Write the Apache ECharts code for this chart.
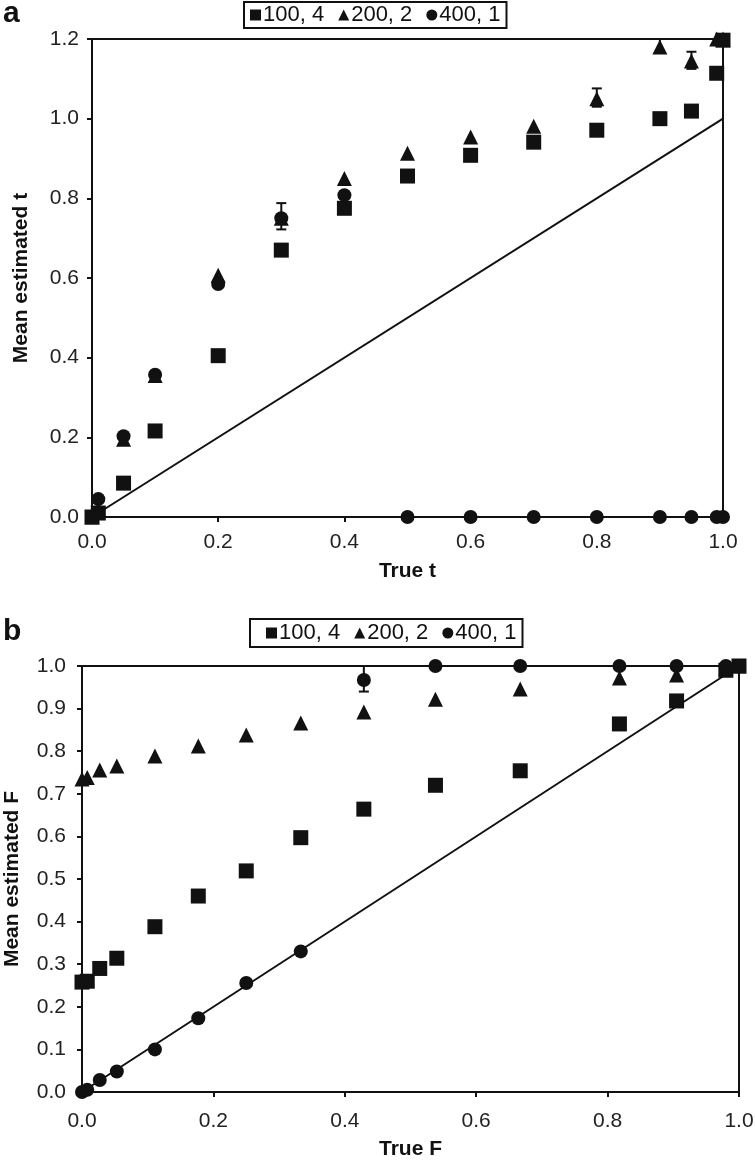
<!DOCTYPE html>
<html><head><meta charset="utf-8">
<script src="https://cdn.jsdelivr.net/npm/echarts@6/dist/echarts.min.js"></script>
<style>html,body{margin:0;padding:0;background:#fff}#c{width:755px;height:1164px}</style>
</head><body><div id="c"></div>
<script>
// Panel a
const seriesNames = ['100, 4', '200, 2', '400, 1'];
const aX = [0, 0.01, 0.05, 0.1, 0.2, 0.3, 0.4, 0.5, 0.6, 0.7, 0.8, 0.9, 0.95, 0.99, 1.0];
const aSquare = [0, 0.01, 0.085, 0.216, 0.405, 0.67, 0.775, 0.856, 0.908, 0.941, 0.971, 1.0, 1.019, 1.114, 1.197];
const aTriangle = [0, 0.02, 0.195, 0.355, 0.607, 0.75, 0.85, 0.913, 0.954, 0.981, 1.05, 1.18, 1.145, 1.2, 1.2];
const aCircle = [0, 0.045, 0.203, 0.357, 0.585, 0.75, 0.808, 0, 0, 0, 0, 0, 0, 0, 0];
// error bars panel a: [x, low, high]
const aErr = [[0.3, 0.722, 0.788], [0.8, 1.03, 1.076], [0.9, 1.165, 1.2], [0.95, 1.125, 1.168]];
const aDiag = [[0, 0], [1, 1]];
const aXTicks = ['0.0', '0.2', '0.4', '0.6', '0.8', '1.0'];
const aYTicks = ['0.0', '0.2', '0.4', '0.6', '0.8', '1.0', '1.2'];

// Panel b
const bX = [0, 0.008, 0.027, 0.053, 0.111, 0.177, 0.25, 0.333, 0.429, 0.538, 0.667, 0.818, 0.905, 0.98, 1.0];
const bSquare = [0.258, 0.26, 0.29, 0.314, 0.388, 0.46, 0.519, 0.597, 0.664, 0.72, 0.754, 0.864, 0.918, 0.99, 1.0];
const bTriangle = [0.735, 0.738, 0.756, 0.765, 0.789, 0.812, 0.838, 0.866, 0.892, 0.922, 0.946, 0.972, 0.979, 0.995, 1.0];
const bCircle = [0, 0.005, 0.028, 0.048, 0.10, 0.173, 0.256, 0.33, 0.967, 1.0, 1.0, 1.0, 1.0, 1.0, 1.0];
const bErr = [[0.429, 0.94, 1.0]];
const bDiag = [[0, 0], [1, 1]];
const bXTicks = ['0.0', '0.2', '0.4', '0.6', '0.8', '1.0'];
const bYTicks = ['0.0','0.1','0.2','0.3','0.4','0.5','0.6','0.7','0.8','0.9','1.0'];

const zip = (xs, ys) => xs.map((x, i) => [x, ys[i]]);
const FONT = 'Liberation Sans, Arial, sans-serif';

function errSeries(idx, data) {
  return {
    type: 'custom', xAxisIndex: idx, yAxisIndex: idx, z: 1, silent: true,
    data: data,
    renderItem: function (params, api) {
      const x = api.value(0), lo = api.value(1), hi = api.value(2);
      const p1 = api.coord([x, lo]), p2 = api.coord([x, hi]);
      const w = 5;
      const st = { stroke: '#111', lineWidth: 2 };
      return { type: 'group', children: [
        { type: 'line', shape: { x1: p1[0], y1: p1[1], x2: p2[0], y2: p2[1] }, style: st },
        { type: 'line', shape: { x1: p1[0] - w, y1: p1[1], x2: p1[0] + w, y2: p1[1] }, style: st },
        { type: 'line', shape: { x1: p2[0] - w, y1: p2[1], x2: p2[0] + w, y2: p2[1] }, style: st }
      ]};
    }
  };
}

function xAxisCfg(idx, name, ticks, nameGap, margin) {
  return {
    type: 'value', gridIndex: idx, min: 0, max: 1, interval: 0.2,
    name: name, nameLocation: 'middle', nameGap: nameGap,
    nameTextStyle: { fontFamily: FONT, fontWeight: 'bold', fontSize: 21, color: '#111' },
    axisLine: { show: true, onZero: false, lineStyle: { color: '#111', width: 2 } },
    axisTick: { show: true, length: 5, lineStyle: { color: '#111', width: 2 } },
    axisLabel: { fontFamily: FONT, fontSize: 21, color: '#222', margin: margin,
      formatter: v => ticks[Math.round(v / 0.2)] },
    splitLine: { show: false }
  };
}
function yAxisCfg(idx, name, max, interval, ticks, nameGap, margin) {
  return {
    type: 'value', gridIndex: idx, min: 0, max: max, interval: interval,
    name: name, nameLocation: 'middle', nameGap: nameGap,
    nameTextStyle: { fontFamily: FONT, fontWeight: 'bold', fontSize: 21, color: '#111' },
    axisLine: { show: true, onZero: false, lineStyle: { color: '#111', width: 2 } },
    axisTick: { show: true, length: 5, lineStyle: { color: '#111', width: 2 } },
    axisLabel: { fontFamily: FONT, fontSize: 21, color: '#222', margin: margin,
      formatter: v => ticks[Math.round(v / interval)] },
    splitLine: { show: false }
  };
}
function scat(idx, name, symbol, size, data) {
  return {
    type: 'scatter', name: name, xAxisIndex: idx, yAxisIndex: idx, z: 3,
    symbol: symbol, symbolSize: size, data: data,
    itemStyle: { color: '#111', opacity: 1 }, silent: true
  };
}
function diag(idx, data) {
  return { type: 'line', xAxisIndex: idx, yAxisIndex: idx, data: data, symbol: 'none',
    lineStyle: { color: '#111', width: 2 }, silent: true, z: 2 };
}

const legendCommon = {
  orient: 'horizontal', itemWidth: 11, itemHeight: 11, itemGap: 14,
  borderColor: '#111', borderWidth: 2, padding: [2, 6, 2, 6],
  textStyle: { fontFamily: FONT, fontSize: 22, color: '#111', padding: [0, 0, 0, -3] },
  selectedMode: false,
  data: [
    { name: seriesNames[0], icon: 'rect' },
    { name: seriesNames[1], icon: 'triangle' },
    { name: seriesNames[2], icon: 'circle' }
  ]
};

const gridCommon = { show: true, borderColor: '#111', borderWidth: 2, backgroundColor: 'transparent',
  containLabel: false, outerBoundsMode: 'none' };

const chart = echarts.init(document.getElementById('c'), null, { renderer: 'canvas' });
chart.setOption({
  animation: false,
  backgroundColor: '#fff',
  title: [
    { text: 'a', left: -2, top: -6, textStyle: { fontFamily: FONT, fontWeight: 'bold', fontSize: 30, color: '#111' } },
    { text: 'b', left: -2, top: 612, textStyle: { fontFamily: FONT, fontWeight: 'bold', fontSize: 30, color: '#111' } }
  ],
  legend: [
    Object.assign({}, legendCommon, { left: 244, top: 2 }),
    Object.assign({}, legendCommon, { left: 250, top: 619, padding: [3, 6, 3, 16] })
  ],
  grid: [
    Object.assign({ left: 92, top: 39, width: 631, height: 478 }, gridCommon),
    Object.assign({ left: 82, top: 666, width: 657, height: 426 }, gridCommon)
  ],
  xAxis: [
    xAxisCfg(0, 'True t', aXTicks, 44, 15),
    xAxisCfg(1, 'True F', bXTicks, 47, 19)
  ],
  yAxis: [
    yAxisCfg(0, 'Mean estimated t', 1.2, 0.2, aYTicks, 60, 13),
    yAxisCfg(1, 'Mean estimated F', 1.0, 0.1, bYTicks, 59, 16)
  ],
  series: [
    diag(0, aDiag),
    errSeries(0, aErr),
    scat(0, seriesNames[0], 'rect', 15, zip(aX, aSquare)),
    scat(0, seriesNames[1], 'triangle', 15, zip(aX, aTriangle)),
    scat(0, seriesNames[2], 'circle', 14, zip(aX, aCircle)),
    diag(1, bDiag),
    errSeries(1, bErr),
    scat(1, seriesNames[0], 'rect', 15, zip(bX, bSquare)),
    scat(1, seriesNames[1], 'triangle', 15, zip(bX, bTriangle)),
    scat(1, seriesNames[2], 'circle', 14, zip(bX, bCircle))
  ]
});
</script></body></html>
